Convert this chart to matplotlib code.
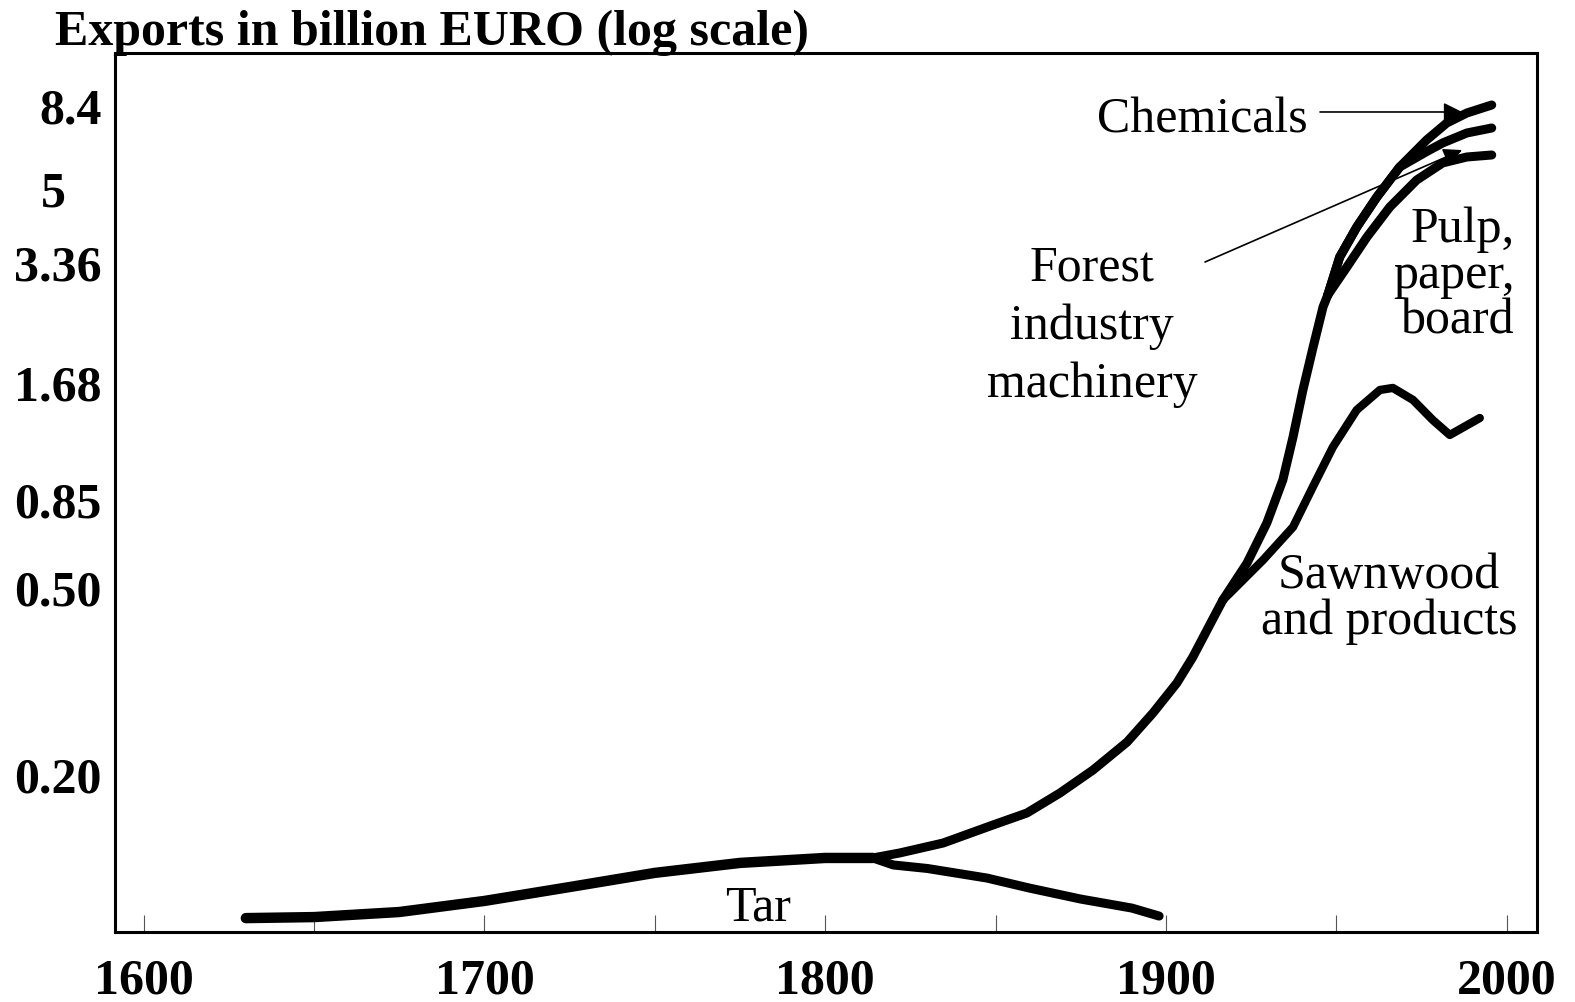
''' finnish forest cluster exports, 1600-2000 '''
import numpy as np
import matplotlib.pyplot as plt
from matplotlib.ticker import FixedLocator, MultipleLocator
from matplotlib.transforms import ScaledTranslation

# --- data (billion EURO) ---
TRUNK_YEARS = [1630, 1650, 1675, 1700, 1725, 1750, 1775, 1800, 1814]
TRUNK_VALUES = [0.0992, 0.0997, 0.1022, 0.1079, 0.1155, 0.1238, 0.1300, 0.1332, 0.1332]

TAR_YEARS = [1814, 1820, 1830, 1847.5, 1860, 1875, 1890, 1898]
TAR_VALUES = [0.1332, 0.1287, 0.1265, 0.1207, 0.1149, 0.1089, 0.1042, 0.1002]

GROWTH_YEARS = [1814, 1821.9, 1834.6, 1849.2, 1859.2, 1868.9, 1878.6, 1888.6, 1896.2,
                1903.2, 1907.9, 1913.8, 1916.7]
GROWTH_VALUES = [0.1332, 0.1365, 0.1433, 0.1565, 0.1660, 0.1831, 0.2049, 0.2350, 0.2710,
                 0.3138, 0.3565, 0.430, 0.4713]

UPPER_YEARS = [1916.7, 1923.8, 1929.6, 1934.3, 1937.3, 1940.2, 1943.2, 1946.1, 1947.5]
UPPER_VALUES = [0.4713, 0.581, 0.7395, 0.955, 1.227, 1.613, 2.068, 2.606, 2.793]

SAWN_YEARS = [1916.7, 1918.8, 1928.5, 1937.3, 1943.1, 1949.0, 1956.0, 1962.8, 1966.6,
              1972.5, 1978.3, 1983.3, 1992.1]
SAWN_VALUES = [0.4713, 0.4877, 0.5917, 0.7219, 0.9168, 1.157, 1.436, 1.613, 1.632,
               1.522, 1.354, 1.241, 1.370]

CHEM_YEARS = [1947.5, 1951.0, 1956.0, 1961.9, 1968.6, 1976.5, 1982.4, 1988.3, 1995.6]
CHEM_VALUES = [2.793, 3.470, 4.076, 4.789, 5.737, 6.792, 7.553, 8.04, 8.453]

FOREST_YEARS = [1947.5, 1951.0, 1956.0, 1961.9, 1968.6, 1976.5, 1981.2, 1988.3, 1995.6]
FOREST_VALUES = [2.793, 3.470, 4.076, 4.789, 5.737, 6.316, 6.667, 7.096, 7.321]

PULP_YEARS = [1947.5, 1953.1, 1959.0, 1965.7, 1973.6, 1981.2, 1988.3, 1995.6]
PULP_VALUES = [2.793, 3.283, 3.864, 4.539, 5.289, 5.884, 6.107, 6.184]

TICK_VALUES = [0.2, 0.5, 0.85, 1.68, 3.36, 5, 8.4]
TICK_LABELS = ['0.20', '0.50', '0.85', '1.68', '3.36', '5', '8.4']
# where each tick sits on the (hand-drawn) log axis, as fraction of axis height
TICK_FRAC = [0.1786, 0.3914, 0.4915, 0.6246, 0.7611, 0.8453, 0.9397]

LOG_TICKS = np.log10(TICK_VALUES)
FRAC = np.array(TICK_FRAC)


def interp_ext(x, xp, fp):
    '''piecewise linear interpolation, extended linearly at both ends'''
    x = np.atleast_1d(np.asarray(x, dtype=float))
    y = np.interp(x, xp, fp)
    lo = x < xp[0]
    hi = x > xp[-1]
    y[lo] = fp[0] + (x[lo] - xp[0]) * (fp[1] - fp[0]) / (xp[1] - xp[0])
    y[hi] = fp[-1] + (x[hi] - xp[-1]) * (fp[-1] - fp[-2]) / (xp[-1] - xp[-2])
    return y


def forward(v):
    return interp_ext(np.log10(np.clip(v, 1e-9, None)), LOG_TICKS, FRAC)


def inverse(f):
    return 10 ** interp_ext(f, FRAC, LOG_TICKS)


def main():
    '''main function'''
    plt.rcParams['font.family'] = 'Liberation Serif'
    fig = plt.figure(figsize=(15.75, 10.02), dpi=100)
    ax = fig.add_axes([0.073, 0.0699, 0.9029, 0.8772])

    ax.set_yscale('function', functions=(forward, inverse))
    ax.set_ylim(float(inverse(0.0)[0]), float(inverse(1.0)[0]))
    ax.set_xlim(1591.6, 2008.9)

    style = dict(color='black', solid_capstyle='round', solid_joinstyle='round')
    ax.plot(TRUNK_YEARS, TRUNK_VALUES, lw=7.5, **style)
    ax.plot(TAR_YEARS, TAR_VALUES, lw=6.5, **style)
    ax.plot(GROWTH_YEARS, GROWTH_VALUES, lw=6.5, **style)
    ax.plot(UPPER_YEARS, UPPER_VALUES, lw=6.5, **style)
    ax.plot(SAWN_YEARS, SAWN_VALUES, lw=6, **style)
    ax.plot(CHEM_YEARS, CHEM_VALUES, lw=6.5, **style)
    ax.plot(FOREST_YEARS, FOREST_VALUES, lw=6.5, **style)
    ax.plot(PULP_YEARS, PULP_VALUES, lw=6.5, **style)

    for sp in ax.spines.values():
        sp.set_linewidth(2.2)

    ax.xaxis.set_major_locator(MultipleLocator(100))
    ax.xaxis.set_minor_locator(MultipleLocator(50))
    ax.tick_params(axis='x', which='both', direction='in', length=12, width=0.8,
                   color='#555555', labelsize=36, pad=19)
    for lbl in ax.get_xticklabels():
        lbl.set_fontweight('bold')

    ax.yaxis.set_major_locator(FixedLocator(TICK_VALUES))
    ax.set_yticklabels(TICK_LABELS)
    ax.tick_params(axis='y', length=0, pad=9.5, labelsize=36)
    for lbl in ax.get_yticklabels():
        lbl.set_fontweight('bold')
        if lbl.get_text() == '5':
            # the single-digit label sits further left in the original
            lbl.set_transform(lbl.get_transform()
                              + ScaledTranslation(-0.36, 0, fig.dpi_scale_trans))

    fig.text(0.0349, 0.967, 'Exports in billion EURO (log scale)', fontsize=36,
             fontweight='bold', va='center', ha='left')

    tsize = 36
    ax.text(0.7644, 0.924, 'Chemicals', transform=ax.transAxes, fontsize=tsize,
            ha='center', va='center')
    ax.text(0.6871, 0.689, 'Forest\nindustry\nmachinery', transform=ax.transAxes,
            fontsize=tsize, ha='center', va='center', linespacing=1.33)
    ax.text(0.9845, 0.7467, 'Pulp,\npaper,\nboard', transform=ax.transAxes,
            fontsize=tsize, ha='right', va='center', multialignment='right',
            linespacing=0.97)
    ax.text(0.8959, 0.379, 'Sawnwood\nand products', transform=ax.transAxes,
            fontsize=tsize, ha='center', va='center', linespacing=1.0)
    ax.text(0.4522, 0.027, 'Tar', transform=ax.transAxes, fontsize=tsize,
            ha='center', va='center')

    arrow = dict(arrowstyle='-|>', color='black', lw=1.2, mutation_scale=28,
                 shrinkA=0, shrinkB=0)
    ax.annotate('', xy=(0.9473, 0.9329), xytext=(0.8474, 0.9329),
                xycoords='axes fraction', arrowprops=arrow)
    ax.annotate('', xy=(0.9473, 0.8896), xytext=(0.7665, 0.7622),
                xycoords='axes fraction', arrowprops=arrow)

    fig.savefig('out.png', dpi=100)


if __name__ == "__main__":
    main()
